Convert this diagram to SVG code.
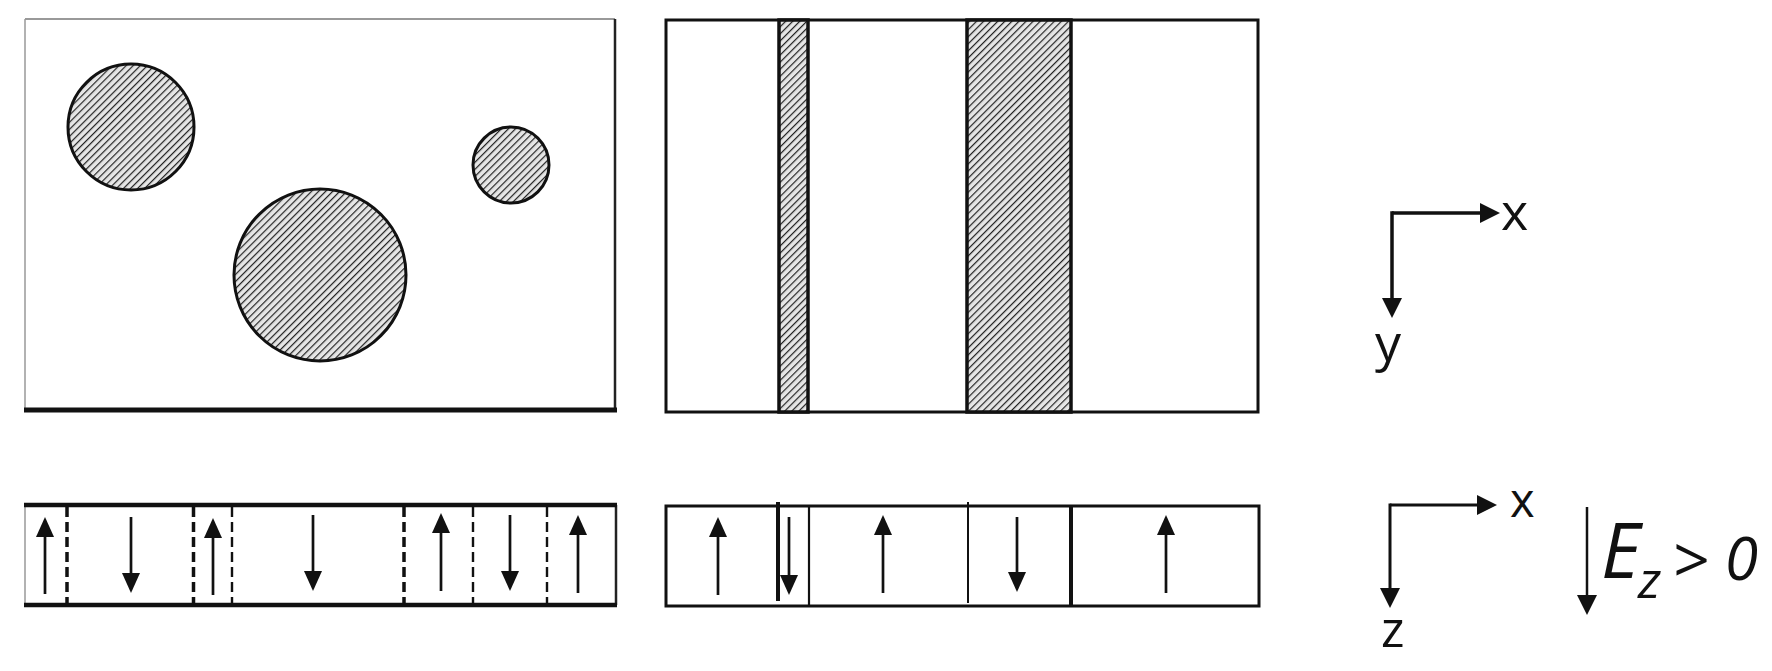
<svg xmlns="http://www.w3.org/2000/svg" width="1772" height="671" viewBox="0 0 1772 671">
<style>
.frame{fill:none;stroke:#111;stroke-width:3}
.blob{fill:url(#hatch);stroke:#111;stroke-width:3}
.arr{stroke:#111;stroke-width:2.7;fill:none;marker-end:url(#ah)}
.axis{stroke:#111;stroke-width:3.5;fill:none;marker-end:url(#ahb)}
.dash{stroke:#111;stroke-dasharray:10 5;fill:none}
.wall{stroke:#111;fill:none}
.lbl{font-family:"Open Sans","Liberation Sans",sans-serif;fill:#111}
</style>
<defs>
<pattern id="hatch" width="5" height="5" patternUnits="userSpaceOnUse" patternTransform="rotate(45)">
<rect width="5" height="5" fill="#e6e6e6"/>
<line x1="0" y1="0" x2="0" y2="5" stroke="#222" stroke-width="2.4"/>
</pattern>
<marker id="ah" viewBox="0 0 20 18" refX="10" refY="9" markerWidth="20" markerHeight="18" orient="auto" markerUnits="userSpaceOnUse">
<path d="M0,0 L20,9 L0,18 z" fill="#111"/>
</marker>
<marker id="ahb" viewBox="0 0 20 20" refX="10" refY="10" markerWidth="20" markerHeight="20" orient="auto" markerUnits="userSpaceOnUse">
<path d="M0,0 L20,10 L0,20 z" fill="#111"/>
</marker>
</defs>

<rect x="0" y="0" width="1772" height="671" fill="#fff"/>

<g id="top-left-panel">
<line x1="25" y1="19" x2="615" y2="19" stroke="#777" stroke-width="1.5"/>
<line x1="25" y1="19" x2="25" y2="410" stroke="#999" stroke-width="1.5"/>
<line x1="615" y1="19" x2="615" y2="410" stroke="#222" stroke-width="2.5"/>
<line x1="24" y1="410" x2="617" y2="410" stroke="#111" stroke-width="5"/>
<circle id="c1" class="blob" cx="131" cy="127" r="63"/>
<circle id="c2" class="blob" cx="320" cy="275" r="86"/>
<circle id="c3" class="blob" cx="511" cy="165" r="38"/>
</g>

<g id="top-right-panel">
<rect class="frame" x="666" y="20" width="592" height="392"/>
<rect class="blob" x="779" y="20" width="29" height="392" style="stroke-width:3.5"/>
<rect class="blob" x="967" y="20" width="104" height="392" style="stroke-width:3.5"/>
</g>

<g id="bottom-left-panel">
<line x1="25" y1="505" x2="25" y2="605" stroke="#999" stroke-width="1.5"/>
<line x1="616" y1="505" x2="616" y2="605" stroke="#222" stroke-width="2.5"/>
<line x1="24" y1="505" x2="617" y2="505" stroke="#111" stroke-width="4.5"/>
<line x1="24" y1="605" x2="617" y2="605" stroke="#111" stroke-width="4.5"/>
<line class="dash" x1="67" y1="507" x2="67" y2="603" stroke-width="3.5"/>
<line class="dash" x1="193.5" y1="507" x2="193.5" y2="603" stroke-width="3.5"/>
<line class="dash" x1="232" y1="507" x2="232" y2="603" stroke-width="2.4"/>
<line class="dash" x1="404" y1="507" x2="404" y2="603" stroke-width="3.5"/>
<line class="dash" x1="473" y1="507" x2="473" y2="603" stroke-width="2.4"/>
<line class="dash" x1="547" y1="507" x2="547" y2="603" stroke-width="2.4"/>
</g>

<g id="bottom-right-panel">
<rect class="frame" x="666" y="506" width="593" height="100"/>
<line class="wall" x1="778" y1="502" x2="778" y2="601" stroke-width="4"/>
<line class="wall" x1="809" y1="506" x2="809" y2="606" stroke-width="2.2"/>
<line class="wall" x1="968" y1="502" x2="968" y2="603" stroke-width="2"/>
<line class="wall" x1="1071" y1="506" x2="1071" y2="606" stroke-width="4"/>
</g>

<g id="connectors">
<line class="arr" x1="45" y1="594" x2="45" y2="527"/>
<line class="arr" x1="131" y1="517" x2="131" y2="583"/>
<line class="arr" x1="213" y1="595" x2="213" y2="528"/>
<line class="arr" x1="313" y1="515" x2="313" y2="581"/>
<line class="arr" x1="441" y1="591" x2="441" y2="523"/>
<line class="arr" x1="510" y1="515" x2="510" y2="581"/>
<line class="arr" x1="578" y1="593" x2="578" y2="525"/>
<line class="arr" x1="718" y1="595" x2="718" y2="527"/>
<line class="arr" x1="789" y1="517" x2="789" y2="585"/>
<line class="arr" x1="883" y1="593" x2="883" y2="525"/>
<line class="arr" x1="1017" y1="517" x2="1017" y2="582"/>
<line class="arr" x1="1166" y1="593" x2="1166" y2="525"/>
<line class="axis" x1="1392" y1="213" x2="1490" y2="213"/>
<line class="axis" x1="1392" y1="211.25" x2="1392" y2="308"/>
<line class="axis" x1="1390" y1="505" x2="1487" y2="505" style="stroke-width:3"/>
<line class="axis" x1="1390" y1="503.5" x2="1390" y2="598" style="stroke-width:3"/>
<line class="axis" x1="1587" y1="507" x2="1587" y2="605" style="stroke-width:2.5"/>
</g>

<g id="labels">
<text class="lbl" x="1501" y="230" font-size="52">x</text>
<text class="lbl" x="1375" y="361" font-size="52">y</text>
<text class="lbl" x="1510" y="517" font-size="47">x</text>
<text class="lbl" x="1381" y="647" font-size="50">z</text>
<text class="lbl" x="1601" y="578" font-size="76" font-style="italic">E</text>
<text class="lbl" x="1638" y="598" font-size="52" font-style="italic">z</text>
<text class="lbl" x="1672" y="583" font-size="64" font-style="italic">&gt;</text>
<text class="lbl" x="1725" y="580" font-size="60" font-style="italic">0</text>
</g>
</svg>
